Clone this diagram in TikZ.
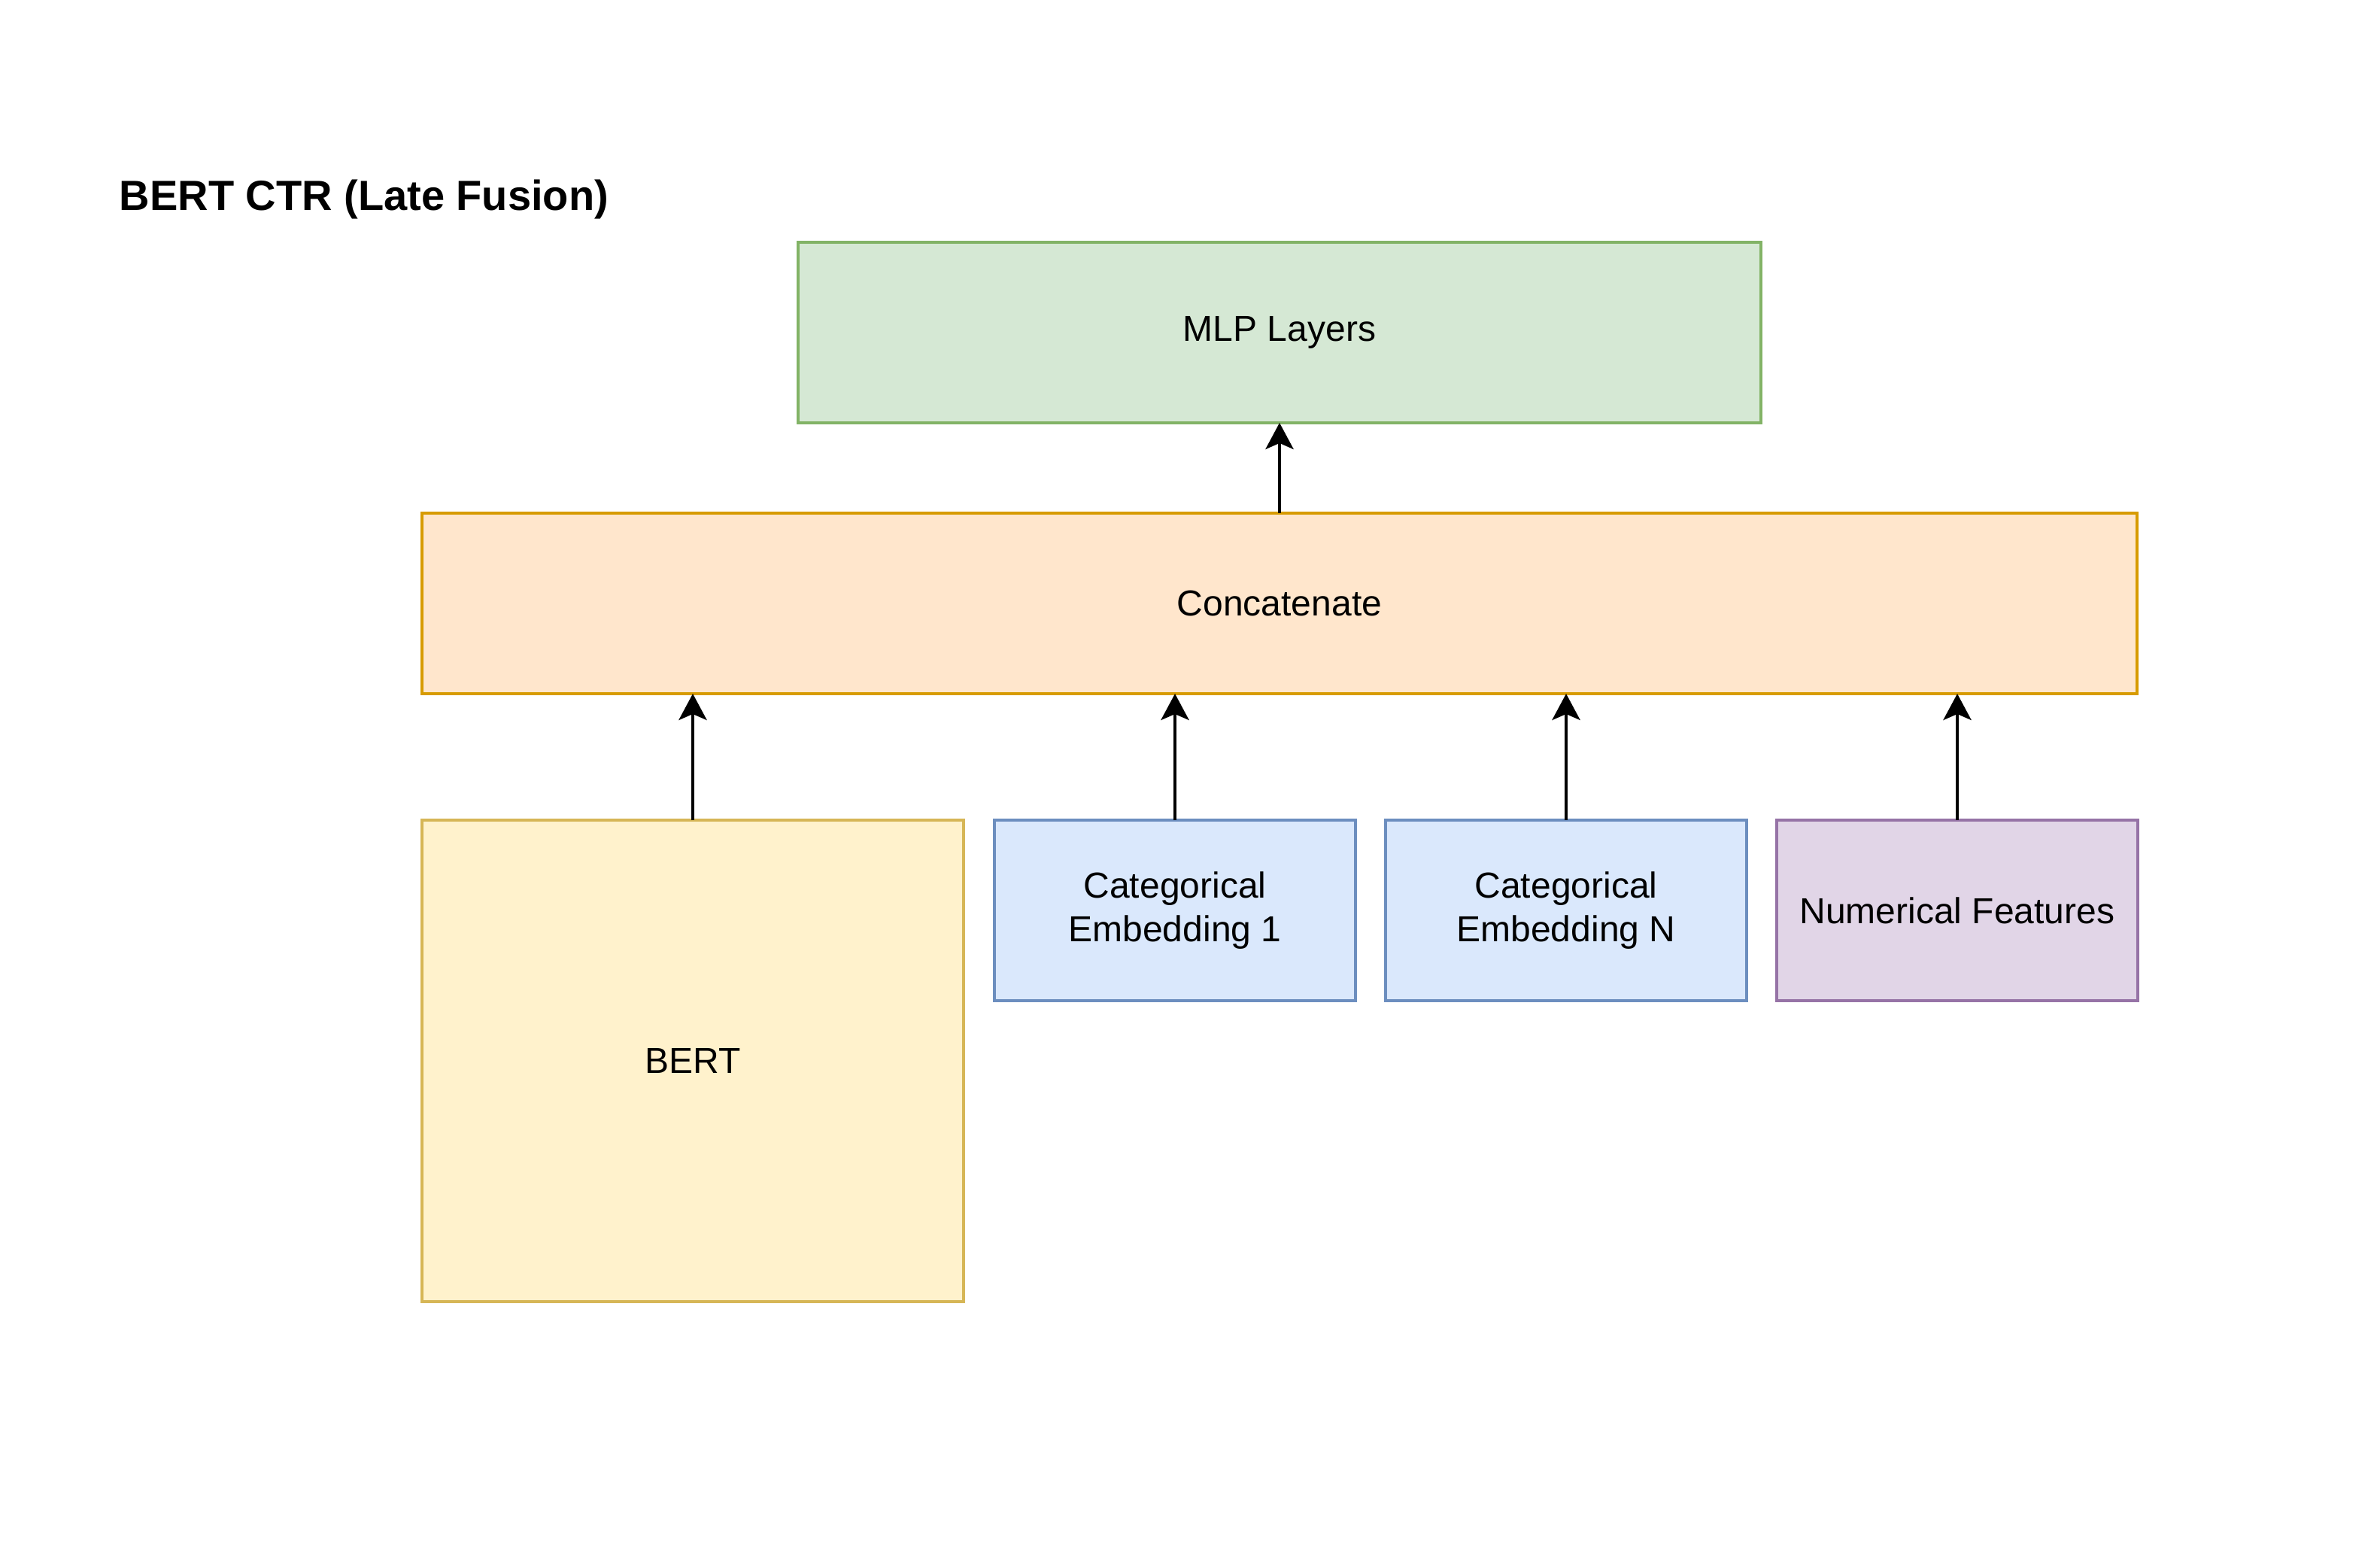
\documentclass[tikz,border=0pt]{standalone}
\usepackage{fontspec}
\setmainfont{Liberation Sans}
\usetikzlibrary{arrows.meta}
\definecolor{gfill}{HTML}{D5E8D4}\definecolor{gline}{HTML}{82B366}
\definecolor{ofill}{HTML}{FFE6CC}\definecolor{oline}{HTML}{D79B00}
\definecolor{yfill}{HTML}{FFF2CC}\definecolor{yline}{HTML}{D6B656}
\definecolor{bfill}{HTML}{DAE8FC}\definecolor{bline}{HTML}{6C8EBF}
\definecolor{pfill}{HTML}{E1D5E7}\definecolor{pline}{HTML}{9673A6}
\tikzset{
  box/.style={rectangle, line width=1pt, inner sep=0pt, outer sep=0pt, align=center,
    font=\fontsize{12pt}{14.6pt}\selectfont},
  conn/.style={line width=1pt, -{Stealth[length=8.75pt, width=9.3pt, inset=2pt]}},
}
\begin{document}
\begin{tikzpicture}[x=1pt, y=-1pt]
\useasboundingbox[fill=white] (0,0) rectangle (791,521);
\node[anchor=base west, inner sep=0pt, font=\fontsize{14pt}{16.8pt}\selectfont\bfseries] (title) at (39.5,70) {BERT CTR (Late Fusion)};
\node[box, draw=gline, fill=gfill, minimum width=320pt, minimum height=60pt] (mlp) at (425.25,110.5) {MLP Layers};
\node[box, draw=oline, fill=ofill, minimum width=570pt, minimum height=60pt] (concat) at (425.25,200.5) {Concatenate};
\node[box, draw=yline, fill=yfill, minimum width=180pt, minimum height=160pt] (bert) at (230.25,352.5) {BERT};
\node[box, draw=bline, fill=bfill, minimum width=120pt, minimum height=60pt] (cat1) at (390.5,302.5) {Categorical\\Embedding 1};
\node[box, draw=bline, fill=bfill, minimum width=120pt, minimum height=60pt] (catn) at (520.5,302.5) {Categorical\\Embedding N};
\node[box, draw=pline, fill=pfill, minimum width=120pt, minimum height=60pt] (num) at (650.5,302.5) {Numerical Features};
\draw[conn] (concat.north) -- (mlp.south);
\draw[conn] (bert.north) -- (bert.north |- concat.south);
\draw[conn] (cat1.north) -- (cat1.north |- concat.south);
\draw[conn] (catn.north) -- (catn.north |- concat.south);
\draw[conn] (num.north) -- (num.north |- concat.south);
\end{tikzpicture}
\end{document}
